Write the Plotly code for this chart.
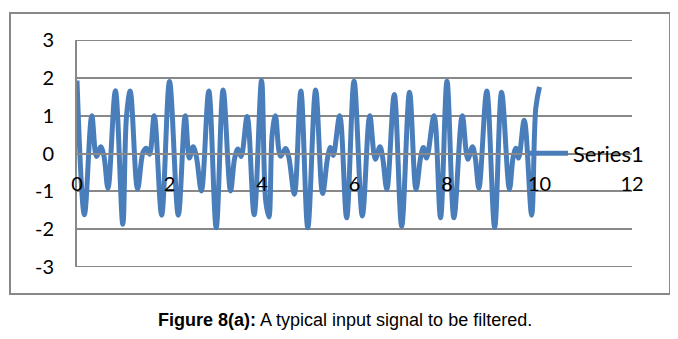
import plotly.graph_objects as go

# Values (extrema and shoulders of the signal)
t = [0.00, 0.16, 0.32, 0.42, 0.51, 0.58, 0.67, 0.83, 0.99, 1.07, 1.15, 1.31, 1.43, 1.50, 1.57, 1.67, 1.83,
     2.00, 2.19, 2.34, 2.43, 2.51, 2.58, 2.69, 2.85, 3.01, 3.16, 3.32, 3.41, 3.48, 3.55, 3.68, 3.83,
     3.99, 4.08, 4.15, 4.22, 4.29, 4.40, 4.51, 4.58, 4.70, 4.84, 4.99, 5.16, 5.31, 5.42, 5.48, 5.54, 5.68, 5.83,
     5.99, 6.17, 6.33, 6.45, 6.55, 6.61, 6.70, 6.86, 7.02, 7.19, 7.33, 7.43, 7.49, 7.56, 7.72, 7.86,
     8.00, 8.15, 8.33, 8.45, 8.55, 8.61, 8.69, 8.86, 9.03, 9.18, 9.35, 9.43, 9.49, 9.55, 9.67, 9.83, 9.92, 10.00]
signal = [1.93, -1.62, 1.00, -0.08, 0.18, -0.05, -0.92, 1.66, -1.87, 0.98, 1.65, -0.94, 0.04, 0.14, -0.02, 1.00, -1.63,
          1.90, -1.63, 1.00, -0.12, 0.18, -0.08, -0.99, 1.65, -1.96, 1.68, -0.99, -0.12, 0.12, -0.08, 0.98, -1.62,
          1.93, -1.25, -1.68, 0.50, 1.00, -0.07, 0.13, -0.10, -1.08, 1.65, -1.96, 1.68, -1.06, -0.10, 0.16, -0.05, 1.00, -1.70,
          1.91, -1.65, 1.00, -0.15, 0.18, -0.12, -0.95, 1.56, -1.92, 1.62, -0.95, -0.10, 0.16, -0.12, 1.00, -1.70,
          1.91, -1.70, 1.00, -0.15, 0.18, -0.10, -0.92, 1.65, -1.95, 1.62, -0.95, -0.10, 0.14, -0.12, 0.88, -1.63, 1.20, 1.76]

x_ticks = [0, 2, 4, 6, 8, 10, 12]
y_ticks = [-3, -2, -1, 0, 1, 2, 3]
y_range = [-3, 3]
series_name = "Series1"
caption = "<b>Figure 8(a):</b> A typical input signal to be filtered."

grid_col = "#888888"
line_col = "#4a7ebb"

fig = go.Figure()
fig.add_trace(go.Scatter(
    x=t, y=signal, mode="lines", name=series_name,
    line=dict(color=line_col, width=5, shape="spline", smoothing=1.0),
    showlegend=True,
))

tick_font = dict(family="Lato", size=20, color="#000000")

# gridlines at the range ends (plotly omits them at the plot edges)
edge_lines = [dict(type="line", xref="paper", yref="y", x0=0, x1=1, y0=v, y1=v,
                   line=dict(color=grid_col, width=2), layer="below") for v in y_range]

# page body has an 8px default margin, so the figure is 8px smaller each way
fig.update_layout(
    width=670, height=331,
    margin=dict(l=69, r=46, t=32, b=72),
    paper_bgcolor="white", plot_bgcolor="white",
    showlegend=True,
    legend=dict(x=0.8036, y=0.5, xanchor="left", yanchor="middle",
                bgcolor="rgba(0,0,0,0)", font=dict(family="Lato", size=22, color="#000000"),
                itemwidth=40, borderwidth=0),
    xaxis=dict(range=[0, 12], tickvals=x_ticks, ticktext=[str(v) for v in x_ticks],
               showgrid=False, zeroline=False, showline=True, linecolor=grid_col, linewidth=2,
               anchor="free", position=0.5, ticks="", ticklabelstandoff=12,
               tickfont=tick_font),
    yaxis=dict(range=y_range, tickvals=y_ticks, ticktext=[str(v) for v in y_ticks],
               showgrid=True, gridcolor=grid_col, gridwidth=2, zeroline=False,
               showline=True, linecolor=grid_col, linewidth=2, ticks="",
               ticklabelstandoff=17, tickfont=tick_font),
    shapes=[dict(type="rect", xref="paper", yref="paper",
                 x0=-0.1207, x1=1.0685, y0=-0.119, y1=1.119,
                 line=dict(color=grid_col, width=2), fillcolor="rgba(0,0,0,0)", layer="below")]
           + edge_lines,
    annotations=[dict(text=caption, xref="paper", yref="paper", x=(337 - 69) / 555, y=-0.2335,
                      xanchor="center", yanchor="middle", showarrow=False,
                      font=dict(family="Liberation Sans", size=18, color="#000000"))],
)

fig.write_html("out.html")
